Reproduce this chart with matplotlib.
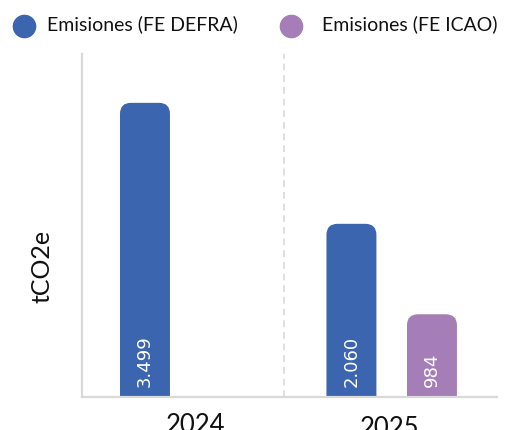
import numpy as np
import matplotlib
matplotlib.use("Agg")
import matplotlib.pyplot as plt
from matplotlib.patches import FancyBboxPatch
from matplotlib.lines import Line2D
from matplotlib.transforms import ScaledTranslation

# data
years = ["2024", "2025"]
defra = [3499, 2060]
icao = [0, 984]
defra_labels = ["3.499", "2.060"]
icao_labels = ["", "984"]
series_names = ["Emisiones (FE DEFRA)", "Emisiones (FE ICAO)"]

blue = "#3C65AF"
purple = "#A57EB8"
grey = "#D9D9D9"

plt.rcParams['font.family'] = ['Lato', 'DejaVu Sans']

W, H = 507, 431
fig = plt.figure(figsize=(W / 100, H / 100), dpi=100)
ax = fig.add_axes([82 / W, 1 - 398 / H, (497 - 82) / W, (398 - 55) / H])

x = np.arange(len(years))
w = 0.242
off = 0.195
xlim = (-0.5, 1.51)
ylim = (0, 4080)
ax.set_xlim(*xlim)
ax.set_ylim(*ylim)

bars1 = ax.bar(x - off, defra, w, color=blue)
bars2 = ax.bar(x + off, icao, w, color=purple)

# rounded tops: replace bars with rounded boxes (bottom corners clipped by axes)
ax_w_px = 415
ax_h_px = 343
xu = (xlim[1] - xlim[0]) / ax_w_px
yu = (ylim[1] - ylim[0]) / ax_h_px
aspect = yu / xu
r_px = 11
for bars, col in [(bars1, blue), (bars2, purple)]:
    for b in bars:
        b.set_visible(False)
        h = b.get_height()
        if h <= 0:
            continue
        p = FancyBboxPatch((b.get_x(), -r_px * yu), b.get_width(), h + r_px * yu,
                           boxstyle=f"round,pad=0,rounding_size={r_px * xu}",
                           mutation_aspect=aspect, facecolor=col, edgecolor="none")
        ax.add_patch(p)

# value labels
for bars, labels in [(bars1, defra_labels), (bars2, icao_labels)]:
    for b, lab in zip(bars, labels):
        if not lab:
            continue
        ax.text(b.get_x() + b.get_width() / 2, 11 * yu, lab, rotation=90,
                ha="center", va="bottom", color="white", fontsize=13,
                family="DejaVu Sans")

# separator between years
ax.axvline(0.48, color=grey, lw=1.2, ls=(0, (4, 3)), zorder=0)

for s in ["top", "right"]:
    ax.spines[s].set_visible(False)
for s in ["left", "bottom"]:
    ax.spines[s].set_color(grey)
    ax.spines[s].set_linewidth(1.6)

ax.set_yticks([])
ax.set_xticks(x)
ax.set_xticklabels(years, fontsize=18.5, color="#111111")
ax.tick_params(axis="x", length=0, pad=11)
# small nudges of the year labels
nudges = [(10, 0), (-2, -3)]
for lbl, (dx, dy) in zip(ax.get_xticklabels(), nudges):
    lbl.set_transform(lbl.get_transform() + ScaledTranslation(dx / 100, dy / 100, fig.dpi_scale_trans))

fig.text(42 / W, 1 - 266 / H, "tCO2e", rotation=90, ha="center", va="center",
         fontsize=18, color="#111111")

# legend
for cx, tx, col, name in [(24, 47, blue, series_names[0]), (291, 322, purple, series_names[1])]:
    fig.add_artist(Line2D([cx / W], [1 - 27 / H], marker="o", markersize=16,
                          color=col, ls="", transform=fig.transFigure))
    fig.text(tx / W, 1 - 30 / H, name, ha="left", va="baseline", fontsize=14,
             color="#111111")

fig.savefig("out.png", dpi=100)
